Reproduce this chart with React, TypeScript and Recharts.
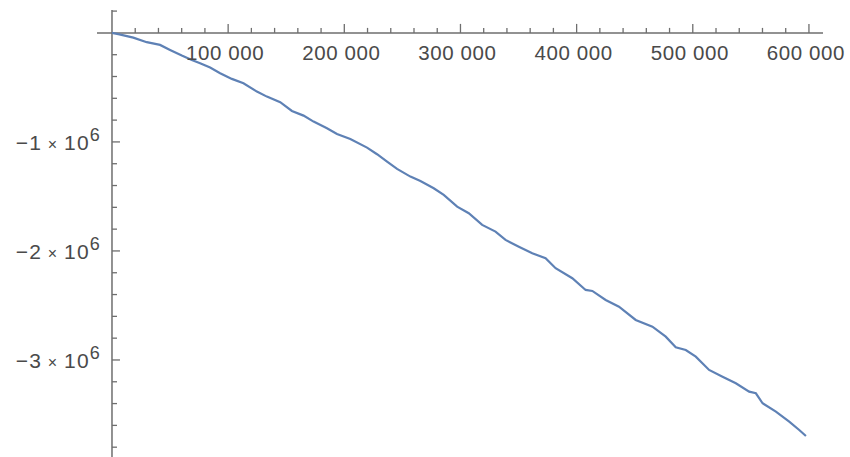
import React from 'react';
import { LineChart, Line, XAxis, YAxis, ReferenceLine, ReferenceDot } from 'recharts';

// series values
const xValues = [0, 5430, 18360, 29910, 41380, 50000, 60090, 68710, 75860, 84480, 93100, 103190, 113190, 124740, 133360, 144830, 154910, 164910, 173530, 185090, 193710, 205170, 219570, 228190, 236810, 245430, 256900, 265520, 276980, 285600, 297150, 307150, 318700, 330170, 338790, 350260, 361810, 373280, 381900, 396290, 407760, 413530, 425000, 436460, 450860, 465260, 476720, 485340, 493970, 502590, 514050, 525600, 537070, 548530, 554310, 560090, 571550, 583010, 591640, 597410];
const yValues = [0, -11900, -43100, -85300, -110100, -156000, -208300, -247700, -278000, -318400, -369700, -422000, -461500, -538500, -584400, -635800, -715600, -758700, -813700, -874300, -926600, -972500, -1052300, -1112800, -1180700, -1247700, -1318300, -1357800, -1424800, -1486200, -1593600, -1654100, -1761500, -1822900, -1899000, -1960600, -2021100, -2067000, -2158700, -2250500, -2357800, -2367000, -2449500, -2511000, -2633000, -2694500, -2786200, -2883500, -2908300, -2969700, -3091700, -3153200, -3213700, -3290800, -3305500, -3397300, -3474300, -3566000, -3642200, -3697200];

const xMajorTicks = [100000, 200000, 300000, 400000, 500000, 600000];
const xTickLabels = ['100 000', '200 000', '300 000', '400 000', '500 000', '600 000'];
const xMinorTicks = [20000, 40000, 60000, 80000, 120000, 140000, 160000, 180000, 220000, 240000, 260000, 280000, 320000, 340000, 360000, 380000, 420000, 440000, 460000, 480000, 520000, 540000, 560000, 580000];

const yMajorTicks = [-1000000, -2000000, -3000000];
const yTickMantissas = ['\u22121', '\u22122', '\u22123'];
const yMinorTicks = [200000, -200000, -400000, -600000, -800000, -1200000, -1400000, -1600000, -1800000, -2200000, -2400000, -2600000, -2800000, -3200000, -3400000, -3600000, -3800000];

const xDomain = [-12900, 612100];
const yDomain = [-3890000, 210000];

const data = xValues.map((x, i) => ({ x, y: yValues[i] }));

const AXIS = '#6e6e6e';
const TEXT = '#4a4a4a';
const LINE = '#5E81B5';
const FONT = '"Liberation Sans", Arial, sans-serif';

const makeXTick = (len: number, label?: string) => (props: any) => {
  const { cx, cy } = props;
  return (
    <g>
      <line x1={cx} x2={cx} y1={cy} y2={cy - len} stroke={AXIS} strokeWidth={1.3} />
      {label ? (
        <text x={cx - 3} y={cy + 27} textAnchor="middle" fontSize={20.5} fontFamily={FONT} fill={TEXT} letterSpacing={0.6}>
          {label}
        </text>
      ) : null}
    </g>
  );
};

const makeYTick = (len: number, mantissa?: string) => (props: any) => {
  const { cx, cy } = props;
  return (
    <g>
      <line x1={cx} x2={cx + len} y1={cy} y2={cy} stroke={AXIS} strokeWidth={1.3} />
      {mantissa ? (
        <text x={cx - 11} y={cy + 8} textAnchor="end" fontSize={21} fontFamily={FONT} fill={TEXT} letterSpacing={1.2}>
          <tspan>{mantissa}</tspan>
          <tspan fontSize={16}>{'\u00a0\u00d7\u00a0'}</tspan>
          <tspan>10</tspan>
          <tspan fontSize={18} dy={-9}>6</tspan>
        </text>
      ) : null}
    </g>
  );
};

export default function App() {
  return (
    <div style={{ position: 'absolute', left: 0, top: 0, background: '#fff' }}>
      <LineChart width={850} height={457} data={data} margin={{ top: 10, right: 27, bottom: 0, left: 97 }}>
        <XAxis type="number" dataKey="x" domain={xDomain} allowDataOverflow hide />
        <YAxis type="number" dataKey="y" domain={yDomain} allowDataOverflow hide />
        <ReferenceLine y={0} stroke={AXIS} strokeWidth={1.5} />
        <ReferenceLine x={0} stroke={AXIS} strokeWidth={1.5} />
        {xMinorTicks.map((v) => (
          <ReferenceDot key={'xm' + v} x={v} y={0} r={0} shape={makeXTick(5)} />
        ))}
        {xMajorTicks.map((v, i) => (
          <ReferenceDot key={'xM' + v} x={v} y={0} r={0} shape={makeXTick(9, xTickLabels[i])} />
        ))}
        {yMinorTicks.map((v) => (
          <ReferenceDot key={'ym' + v} x={0} y={v} r={0} shape={makeYTick(5)} />
        ))}
        {yMajorTicks.map((v, i) => (
          <ReferenceDot key={'yM' + v} x={0} y={v} r={0} shape={makeYTick(8, yTickMantissas[i])} />
        ))}
        <Line type="linear" dataKey="y" stroke={LINE} strokeWidth={2.2} dot={false} isAnimationActive={false} />
      </LineChart>
    </div>
  );
}
